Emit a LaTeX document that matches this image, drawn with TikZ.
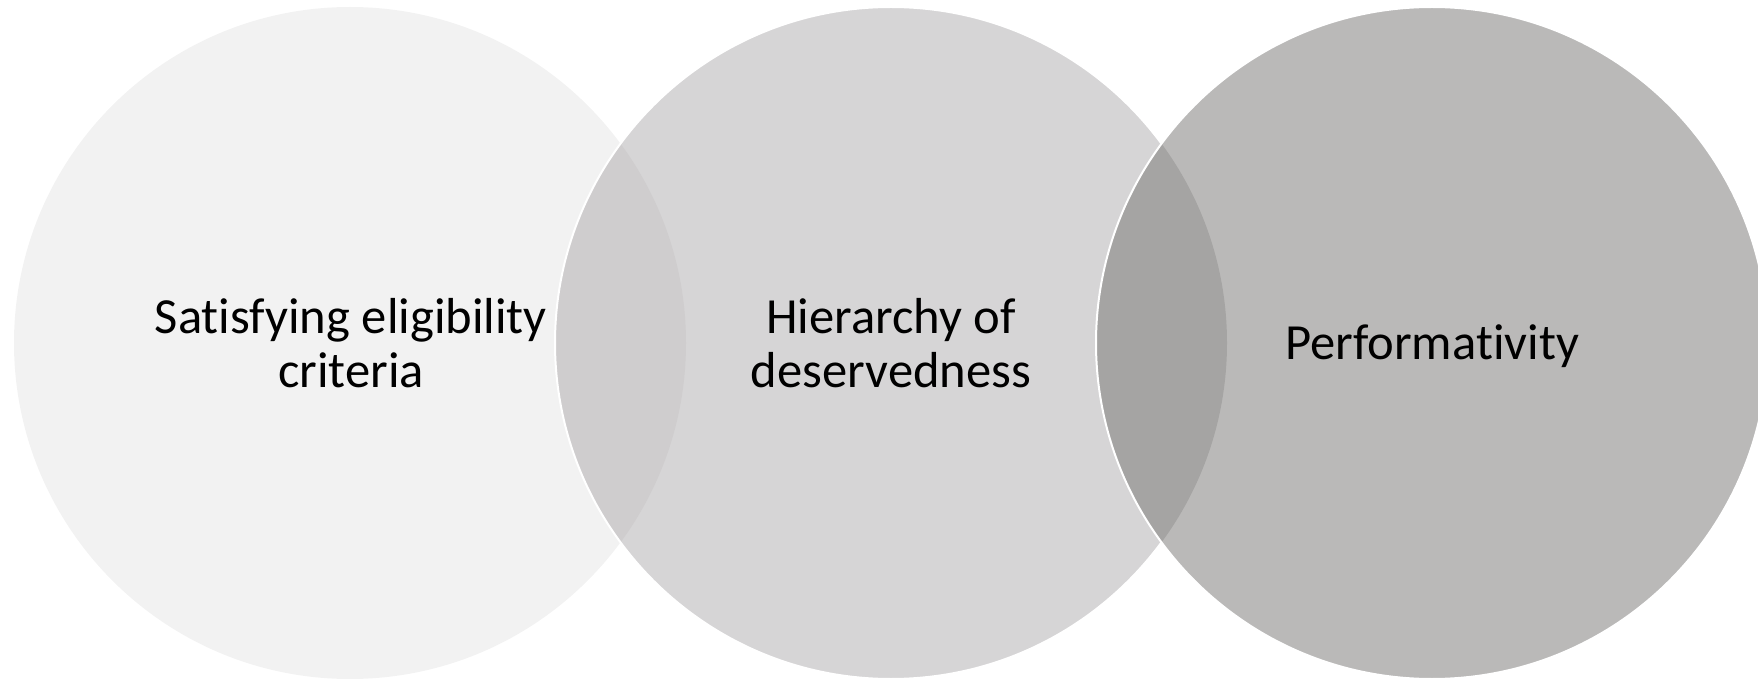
\documentclass[tikz,border=0pt]{standalone}
\usepackage{fontspec}
\setmainfont[Ligatures=NoCommon]{Carlito}
\definecolor{cA}{HTML}{F2F2F2}
\definecolor{cB}{HTML}{D6D5D6}
\definecolor{cAB}{HTML}{CFCDCE}
\definecolor{cC}{HTML}{BAB9B8}
\definecolor{cBC}{HTML}{A5A4A3}
\tikzset{
  lbl/.style={align=center, font=\fontsize{25.3}{27}\selectfont, text=black, inner sep=0pt},
  rim/.style={draw=white, line width=1pt}
}
\begin{document}
\begin{tikzpicture}[x=0.5pt,y=-0.5pt]
\useasboundingbox (0,0) rectangle (1758,679);
\clip (0,0) rectangle (1758,679);
\def\R{336}
\coordinate (cA) at (350,343);
\coordinate (cB) at (891,343);
\coordinate (cC) at (1432,343);
\fill[cA] (cA) circle[radius=\R];
\fill[cB] (cB) circle[radius=\R];
\begin{scope}
  \clip (cA) circle[radius=\R];
  \fill[cAB] (cB) circle[radius=\R];
\end{scope}
\draw[rim] (cB) circle[radius=\R];
\fill[cC] (cC) circle[radius=\R];
\begin{scope}
  \clip (cB) circle[radius=\R];
  \fill[cBC] (cC) circle[radius=\R];
\end{scope}
\draw[rim] (cC) circle[radius=\R];
\node[lbl] (tA) at (351,343) {Satisfying eligibility\\criteria};
\node[lbl] (tB) at (891,343) {Hierarchy of\\deservedness};
\node[lbl] (tC) at (1432,346) {Performativity};
\end{tikzpicture}
\end{document}
